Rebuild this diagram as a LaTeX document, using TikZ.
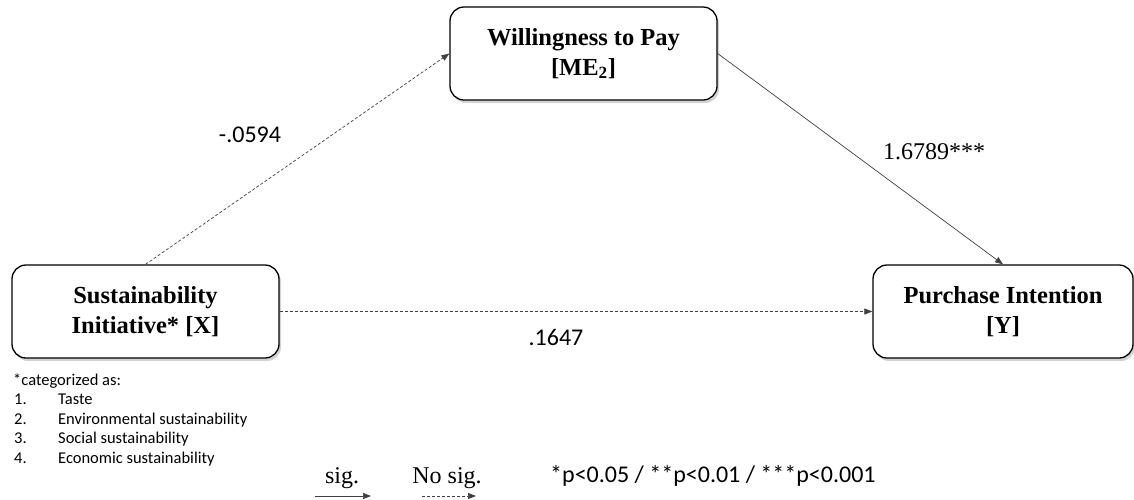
\documentclass[tikz,border=0pt]{standalone}
\usepackage{fontspec}
\setmainfont{Liberation Serif}
\newfontfamily\calibri{Carlito}
\usetikzlibrary{arrows.meta,positioning,shadows}

\begin{document}
\begin{tikzpicture}[x=1pt, y=-1pt, >={Triangle[length=8pt,width=6pt]},
construct/.style={draw, line width=1.3pt, rounded corners=14pt, fill=white, minimum width=267pt, minimum height=93pt, inner sep=0pt, align=center, font=\fontsize{24.5}{30}\selectfont\bfseries, drop shadow={shadow xshift=2pt, shadow yshift=-3pt, opacity=0.35}},
sigpath/.style={->, line width=0.7pt, draw=black!75},
nsigpath/.style={sigpath, dash pattern=on 3pt off 2pt},
coef/.style={font=\calibri\fontsize{24}{28}\selectfont, inner sep=0pt},
coefserif/.style={font=\fontsize{24}{28}\selectfont, inner sep=0pt},
note/.style={font=\calibri\fontsize{16.5}{19.5}\selectfont, inner sep=0pt, anchor=base west}]
\useasboundingbox (0,0) rectangle (1134,499);
% constructs
\node[construct] (sust) at (145.5,311.5) {Sustainability\\Initiative* [X]};
\node[construct] (wtp) at (583.5,53.5) {Willingness to Pay\\{[ME\textsubscript{2}]}};
\node[construct, minimum width=260pt] (pi) at (1003,311.5) {Purchase Intention\\{[Y]}};
% paths
\draw[nsigpath] (sust.north) -- (wtp.west);
\draw[sigpath] (wtp.east) -- (pi.north);
\draw[nsigpath] (sust.east) -- (pi.west);
\node[coef, anchor=base] (acoef) at (250,142) {-.0594};
\node[coefserif, anchor=base west] (bcoef) at (883,159) {1.6789***};
\node[coef, anchor=base] (ccoef) at (556,345) {.1647};
% categories
\node[note] (cat) at (13,385) {*categorized as:};
\node[note] (cat1) at (14,404) {\makebox[44pt][l]{1.}Taste};
\node[note] (cat2) at (14,424) {\makebox[44pt][l]{2.}Environmental sustainability};
\node[note] (cat3) at (14,443) {\makebox[44pt][l]{3.}Social sustainability};
\node[note] (cat4) at (14,463) {\makebox[44pt][l]{4.}Economic sustainability};
% legend
\node[coefserif, anchor=base] (sig) at (342,483) {sig.};
\node[coefserif, anchor=base] (nosig) at (447,483) {No sig.};
\coordinate (sigA) at (315,496);
\coordinate (sigB) at (371,496);
\coordinate (nsigA) at (422,496);
\coordinate (nsigB) at (476,496);
\draw[sigpath] (sigA) -- (sigB);
\draw[nsigpath] (nsigA) -- (nsigB);
\node[coef, anchor=base west] (pval) at (550,482) {*p<0.05 / **p<0.01 / ***p<0.001};
\end{tikzpicture}
\end{document}
